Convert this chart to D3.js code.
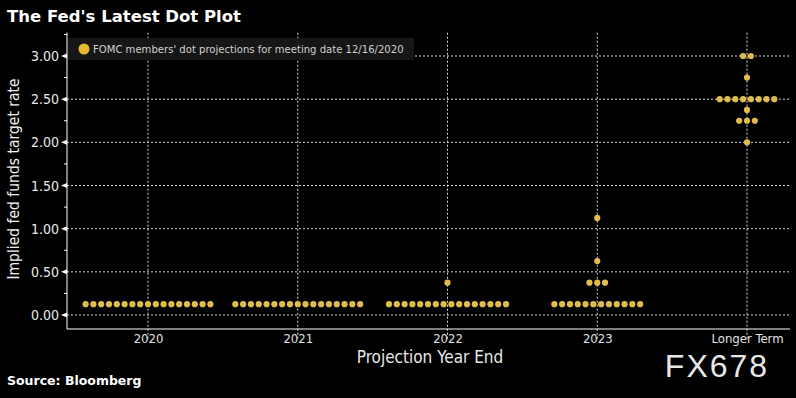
<!DOCTYPE html>
<html lang="en">
<head>
<meta charset="utf-8">
<script src="https://d3js.org/d3.v7.min.js"></script>
<style type="text/css">
body {
	margin: 0;
	background-color: #000;
}
svg text {
	font-family: "Liberation Sans Narrow", "DejaVu Sans Condensed", "Liberation Sans", sans-serif;
}
.grid line {
	stroke: #d8d8d8;
	stroke-dasharray: 2,2;
	stroke-width: 1;
}
</style>
</head>
<body>
<div class="chart"></div>
<script type="text/javascript">
// categories on the x axis
var years = ["2020", "2021", "2022", "2023", "Longer Term"];

// dot projections: rate levels and number of members at each level, per category
var rates2020 = [0.125];
var counts2020 = [17];
var rates2021 = [0.125];
var counts2021 = [17];
var rates2022 = [0.125, 0.375];
var counts2022 = [16, 1];
var rates2023 = [0.125, 0.375, 0.625, 1.125];
var counts2023 = [12, 3, 1, 1];
var ratesLonger = [2.00, 2.25, 2.375, 2.50, 2.75, 3.00];
var countsLonger = [1, 3, 1, 8, 1, 2];

var yTicks = [0, 0.5, 1, 1.5, 2, 2.5, 3];
var yMinorTicks = [0.25, 0.75, 1.25, 1.75, 2.25, 2.75, 3.25];

var rateSets = [rates2020, rates2021, rates2022, rates2023, ratesLonger];
var countSets = [counts2020, counts2021, counts2022, counts2023, countsLonger];

var width = 796, height = 398;
var margin = {left: 67, right: 6, top: 33, bottom: 69};
var dotColor = "#e0bb4e";
var dotGap = 7.8;

var svg = d3.select(".chart").append("svg")
	.attr("width", width)
	.attr("height", height)
	.style("background", "#000");

var x = d3.scalePoint()
	.domain(years)
	.range([148, 747]);

var y = d3.scaleLinear()
	.domain([0, 3.27])
	.range([315, 315 - 3.27 * 86.33]);

// gridlines
var grid = svg.append("g").attr("class", "grid");
grid.selectAll(".h")
	.data(yTicks)
	.enter().append("line")
	.attr("x1", margin.left)
	.attr("x2", width - 6)
	.attr("y1", function(d) { return y(d); })
	.attr("y2", function(d) { return y(d); });
grid.selectAll(".v")
	.data(years)
	.enter().append("line")
	.attr("x1", function(d) { return x(d); })
	.attr("x2", function(d) { return x(d); })
	.attr("y1", y(3.27))
	.attr("y2", height - margin.bottom + 10);

// legend
var legend = svg.append("g");
legend.append("rect")
	.attr("x", 68)
	.attr("y", 38)
	.attr("width", 346)
	.attr("height", 22)
	.style("fill", "#161616");
legend.append("circle")
	.attr("cx", 84)
	.attr("cy", 49)
	.attr("r", 5.5)
	.style("fill", "#e6b730");
legend.append("text")
	.attr("x", 93)
	.attr("y", 53)
	.style("fill", "#d0d0d0")
	.style("font-size", "11.2px")
	.text("FOMC members' dot projections for meeting date 12/16/2020");

// dots
var dots = [];
years.forEach(function(yr, i) {
	rateSets[i].forEach(function(r, j) {
		var n = countSets[i][j];
		for (var k = 0; k < n; k++) {
			dots.push({year: yr, rate: r, offset: (k - (n - 1) / 2) * dotGap});
		}
	});
});
svg.append("g").selectAll("circle")
	.data(dots)
	.enter().append("circle")
	.attr("cx", function(d) { return x(d.year) + d.offset; })
	.attr("cy", function(d) { return y(d.rate); })
	.attr("r", 3.1)
	.style("fill", dotColor);

// y axis
var yAxis = svg.append("g")
	.attr("transform", "translate(" + margin.left + ",0)");
yAxis.append("line")
	.attr("x1", 0).attr("x2", 0)
	.attr("y1", y(3.27)).attr("y2", 329)
	.style("stroke", "#fff");
yAxis.selectAll(".tri")
	.data(yTicks)
	.enter().append("path")
	.attr("d", function(d) { return "M0," + (y(d) - 2.5) + "L-6," + y(d) + "L0," + (y(d) + 2.5) + "Z"; })
	.style("fill", "#fff");
yAxis.selectAll(".minor")
	.data(yMinorTicks)
	.enter().append("line")
	.attr("x1", -3).attr("x2", 0)
	.attr("y1", function(d) { return y(d); })
	.attr("y2", function(d) { return y(d); })
	.style("stroke", "#fff");
yAxis.selectAll(".lbl")
	.data(yTicks)
	.enter().append("text")
	.attr("x", -8)
	.attr("y", function(d) { return y(d) + 5; })
	.attr("text-anchor", "end")
	.style("fill", "#e8e8e8")
	.style("font-size", "14px")
	.text(function(d) { return d3.format(".2f")(d); });

svg.append("text")
	.attr("transform", "translate(19," + 179 + ")rotate(-90)")
	.attr("text-anchor", "middle")
	.style("fill", "#f0f0f0")
	.style("font-size", "15.5px")
	.text("Implied fed funds target rate");

// x axis
var xAxis = svg.append("g")
	.attr("transform", "translate(0,329)")
	.call(d3.axisBottom(x).tickSize(0).tickPadding(5));
xAxis.select(".domain").remove();
xAxis.append("line")
	.attr("x1", margin.left).attr("x2", 790)
	.style("stroke", "#fff");
xAxis.selectAll("text")
	.style("fill", "#e0e0e0")
	.style("font-size", "13px")
	.style("font-family", "\"Liberation Sans Narrow\", \"DejaVu Sans Condensed\", sans-serif");

svg.append("text")
	.attr("x", 430)
	.attr("y", 363)
	.attr("text-anchor", "middle")
	.style("fill", "#e8e8e8")
	.style("font-size", "17px")
	.text("Projection Year End");

// title and source
svg.append("text")
	.attr("x", 7)
	.attr("y", 22)
	.style("fill", "#fff")
	.style("font-size", "16.5px")
	.style("font-weight", "bold")
	.style("font-family", "\"DejaVu Sans\", sans-serif")
	.text("The Fed's Latest Dot Plot");

svg.append("text")
	.attr("x", 7)
	.attr("y", 385)
	.style("fill", "#fff")
	.style("font-size", "12.5px")
	.style("font-weight", "bold")
	.style("font-family", "\"DejaVu Sans\", sans-serif")
	.text("Source: Bloomberg");

svg.append("text")
	.attr("x", 717)
	.attr("y", 377)
	.attr("text-anchor", "middle")
	.style("fill", "#e8e8e8")
	.style("font-size", "32px")
	.style("letter-spacing", "2px")
	.style("font-family", "\"Liberation Sans\", sans-serif")
	.text("FX678");
</script>
</body>
</html>
